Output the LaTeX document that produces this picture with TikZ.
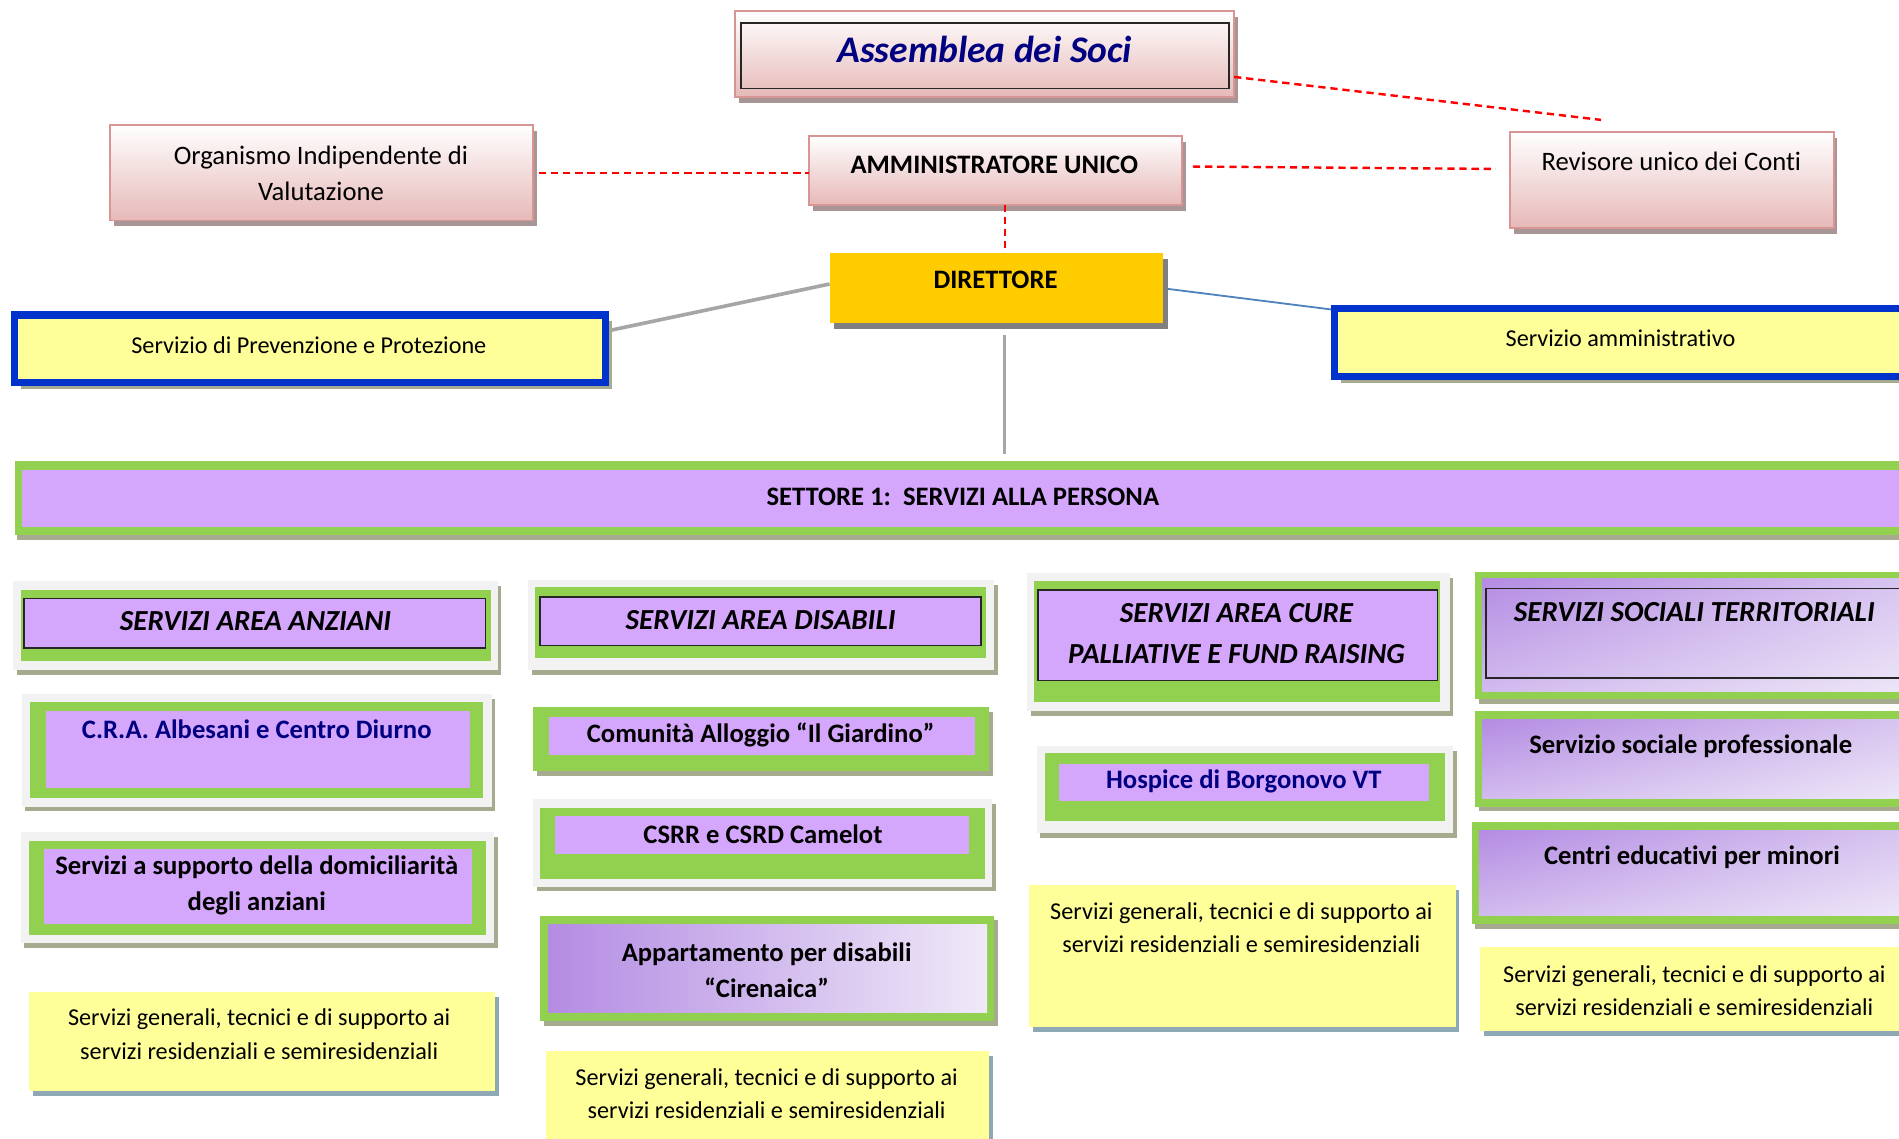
\documentclass[tikz,border=0pt]{standalone}
\usepackage{fontspec}
\setmainfont[Ligatures=NoCommon]{Carlito}
\usetikzlibrary{fit,shadows,shadings}
\definecolor{rosabordo}{HTML}{D99594}
\definecolor{rosafondo}{HTML}{E6B9B8}
\definecolor{rosaombra}{HTML}{A89696}
\definecolor{blunotte}{HTML}{000080}
\definecolor{blubordo}{HTML}{0033CC}
\definecolor{giallobox}{HTML}{FFFF99}
\definecolor{oro}{HTML}{FFCC00}
\definecolor{verdebox}{HTML}{92D050}
\definecolor{lillabox}{HTML}{D4A6FC}
\definecolor{grigiochiaro}{HTML}{F2F2F2}
\definecolor{ombraverde}{HTML}{A6AA8F}
\definecolor{ombrablu}{HTML}{8FA8B5}
\definecolor{viola}{HTML}{B48CE3}
\definecolor{violachiaro}{HTML}{EFE9F8}
\definecolor{lineablu}{HTML}{4F81BD}
\definecolor{lineagrigia}{HTML}{A6A6A6}
\begin{document}
\begin{tikzpicture}[x=1pt,y=-1pt,
    every node/.style={inner sep=0pt,outer sep=0pt},
    rosa/.style={draw=rosabordo,line width=1.5pt,top color=white,bottom color=rosafondo,
      general shadow={fill=rosaombra,shadow xshift=3pt,shadow yshift=-5pt}},
    cornice/.style={fill=grigiochiaro,general shadow={fill=ombraverde,shadow xshift=3pt,shadow yshift=-4pt}},
    verde/.style={fill=verdebox},
    verdeombra/.style={fill=verdebox,general shadow={fill=ombraverde,shadow xshift=3pt,shadow yshift=-4pt}},
    lilla/.style={fill=lillabox},
    bordo/.style={draw=black!85,line width=1.3pt},
    sfumato/.style={left color=viola,right color=violachiaro},
    obliquo/.style={upper left=viola,upper right=viola!35!violachiaro,
      lower left=viola!50!violachiaro,lower right=violachiaro},
    giallo/.style={fill=giallobox,general shadow={fill=ombrablu,shadow xshift=3pt,shadow yshift=-4pt}},
    cornicebl/.style={draw=blubordo,line width=6pt,fill=giallobox,
      general shadow={fill=ombraverde,shadow xshift=5pt,shadow yshift=-5pt}},
    testo/.style={font=\fontsize{22}{30}\selectfont,align=center},
    piccolo/.style={font=\fontsize{20}{28}\selectfont,align=center},
    titolo/.style={font=\bfseries\itshape\fontsize{24}{34}\selectfont,align=center},
    grassetto/.style={font=\bfseries\fontsize{22}{30}\selectfont,align=center},
    rosso/.style={draw=red,line width=2pt,dash pattern=on 6pt off 4pt},
    grigia/.style={draw=lineagrigia,line width=3pt},
    blu/.style={draw=lineablu,line width=1.5pt}]
\useasboundingbox (0,0) rectangle (1568,940);
\clip (0,0) rectangle (1568,940);

% vertice
\node[rosa,fit={(607,9) (1019,80)}] (ass) {};
\node[bordo,fit={(612,19) (1015,73)}] (assin) {};
\node[font=\bfseries\itshape\fontsize{31}{36}\selectfont,text=blunotte] (asst) at (813,41) {Assemblea dei Soci};
\node[rosa,fit={(91,103) (440,182)}] (oiv) {};
\node[testo] (oivt) at (265,143) {Organismo Indipendente di\\Valutazione};
\node[rosa,fit={(668,112) (976,169)}] (amm) {};
\node[grassetto] (ammt) at (821,136) {AMMINISTRATORE UNICO};
\node[rosa,fit={(1247,109) (1514,188)}] (rev) {};
\node[testo] (revt) at (1380,133) {Revisore unico dei Conti};
\coordinate (revsu) at (1322,99);
\node[fill=oro,fit={(685,209) (960,267)},general shadow={fill=gray,shadow xshift=4pt,shadow yshift=-5pt}] (dir) {};
\node[grassetto] (dirt) at (822,231) {DIRETTORE};
\node[cornicebl,fit={(12,260) (500,316)}] (spp) {};
\node[piccolo] (sppt) at (255,285) {Servizio di Prevenzione e Protezione};
\node[cornicebl,fit={(1102,255) (1600,311)}] (sam) {};
\node[piccolo] (samt) at (1338,279) {Servizio amministrativo};

% collegamenti
\draw[rosso] ([yshift=-19pt]ass.east) -- (revsu);
\draw[rosso] ([xshift=5pt,yshift=-0.5pt]oiv.east) -- ([yshift=-0.5pt]oiv.east -| amm.west);
\draw[rosso] ([xshift=9pt,yshift=3pt]amm.east) -- ([xshift=-12pt,yshift=9pt]rev.west);
\draw[rosso] ([xshift=8pt]amm.south) -- ([xshift=8pt]amm.south |- dir.north);
\draw[grigia] ([yshift=3.5pt]dir.west) -- ([xshift=5pt,yshift=15.5pt]spp.east);
\draw[blu] ([xshift=4pt,yshift=-0.5pt]dir.east) -- ([xshift=-3pt,yshift=-0.5pt]sam.north west);

% settore
\node[verde,fit={(12,381) (1600,442)},general shadow={fill=ombraverde,shadow xshift=2pt,shadow yshift=-4pt}] (set) {};
\node[lilla,fit={(18,388) (1600,435)}] (setin) {};
\node[grassetto] (sett) at (795,410) {SETTORE 1:\ \ SERVIZI ALLA PERSONA};
\draw[grigia,line width=2pt] ([xshift=7pt,yshift=-10pt]dir.south) -- ([xshift=7pt,yshift=6pt]dir.south |- set.north);

% area anziani
\node[cornice,fit={(11,480) (411,553)}] (anz) {};
\node[verde,fit={(17,487) (405,546)}] (anzg) {};
\node[lilla,bordo,fit={(20,494) (401,535)}] (anzl) {};
\node[titolo] (anzt) at (211,513) {SERVIZI AREA ANZIANI};
\node[cornice,fit={(18,573) (406,666)}] (cra) {};
\node[verde,fit={(25,580) (399,659)}] (crag) {};
\node[lilla,fit={(38,587) (388,651)}] (cral) {};
\node[grassetto,text=blunotte] (crat) at (212,602) {C.R.A. Albesani e Centro Diurno};
\node[cornice,fit={(17,687) (408,779)}] (dom) {};
\node[verde,fit={(24,694) (401,772)}] (domg) {};
\node[lilla,fit={(36,701) (390,763)}] (doml) {};
\node[grassetto] (domt) at (212,731) {Servizi a supporto della domiciliarità\\degli anziani};
\node[giallo,fit={(24,819) (409,901)}] (gen1) {};
\node[piccolo] (gen1t) at (214,854) {Servizi generali, tecnici e di supporto ai\\servizi residenziali e semiresidenziali};

% area disabili
\node[cornice,fit={(436,479) (821,553)}] (dis) {};
\node[verde,fit={(442,485) (814,543)}] (disg) {};
\node[lilla,bordo,fit={(446,493) (810,533)}] (disl) {};
\node[titolo] (dist) at (628,512) {SERVIZI AREA DISABILI};
\node[verdeombra,fit={(440,584) (817,637)}] (com) {};
\node[lilla,fit={(453,592) (805,623)}] (coml) {};
\node[grassetto] (comt) at (628,607) {Comunità Alloggio “Il Giardino”};
\node[cornice,fit={(440,660) (819,732)}] (cam) {};
\node[verde,fit={(446,667) (813,726)}] (camg) {};
\node[lilla,fit={(458,674) (800,705)}] (caml) {};
\node[grassetto] (camt) at (630,689) {CSRR e CSRD Camelot};
\node[verdeombra,fit={(446,756) (821,843)}] (app) {};
\node[sfumato,fit={(453,763) (815,836)}] (appl) {};
\node[grassetto] (appt) at (633,801) {Appartamento per disabili\\“Cirenaica”};
\node[giallo,fit={(451,868) (817,960)}] (gen2) {};
\node[piccolo] (gen2t) at (633,903) {Servizi generali, tecnici e di supporto ai\\servizi residenziali e semiresidenziali};

% cure palliative
\node[cornice,fit={(848,473) (1197,587)}] (pal) {};
\node[verde,fit={(854,480) (1189,580)}] (palg) {};
\node[lilla,bordo,fit={(857,487) (1187,562)}] (pall) {};
\node[titolo] (palt) at (1021,523) {SERVIZI AREA CURE\\PALLIATIVE E FUND RAISING};
\node[cornice,fit={(856,616) (1200,688)}] (hos) {};
\node[verde,fit={(863,622) (1193,678)}] (hosg) {};
\node[lilla,fit={(874,631) (1180,661)}] (hosl) {};
\node[grassetto,text=blunotte] (host) at (1027,645) {Hospice di Borgonovo VT};
\node[giallo,fit={(850,731) (1202,848)}] (gen3) {};
\node[piccolo] (gen3t) at (1025,766) {Servizi generali, tecnici e di supporto ai\\servizi residenziali e semiresidenziali};

% servizi sociali
\node[verdeombra,fit={(1218,472) (1600,577)}] (soc) {};
\node[obliquo,fit={(1224,478) (1600,571)}] (socl) {};
\node[bordo,fit={(1227,486) (1600,560)}] (socb) {};
\node[titolo] (soct) at (1399,505) {SERVIZI SOCIALI TERRITORIALI};
\node[verdeombra,fit={(1218,587) (1600,666)}] (pro) {};
\node[obliquo,fit={(1224,594) (1600,659)}] (prol) {};
\node[grassetto] (prot) at (1396,616) {Servizio sociale professionale};
\node[verdeombra,fit={(1215,679) (1600,763)}] (edu) {};
\node[obliquo,fit={(1221,686) (1600,756)}] (edul) {};
\node[grassetto] (edut) at (1397,708) {Centri educativi per minori};
\node[giallo,fit={(1222,782) (1600,851)}] (gen4) {};
\node[piccolo] (gen4t) at (1399,818) {Servizi generali, tecnici e di supporto ai\\servizi residenziali e semiresidenziali};
\end{tikzpicture}
\end{document}
